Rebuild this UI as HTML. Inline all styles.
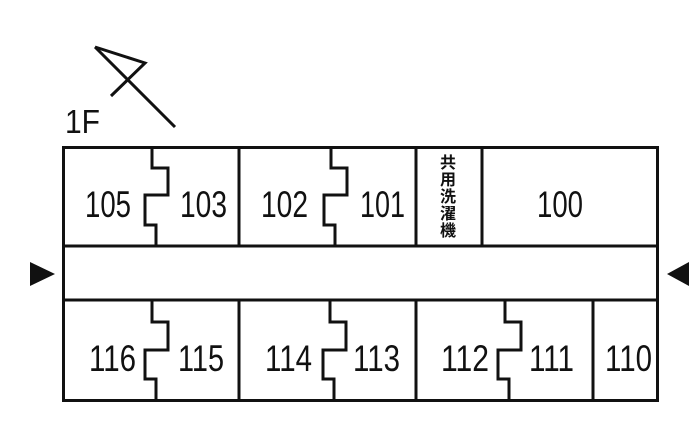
<!DOCTYPE html>
<html><head><meta charset="utf-8"><style>
html,body{margin:0;padding:0;background:#fff;}
svg{display:block;}
text{font-family:"Liberation Sans","Noto Sans CJK JP",sans-serif;fill:#111;}
</style></head><body>
<svg width="700" height="446" viewBox="0 0 700 446" xmlns="http://www.w3.org/2000/svg">
<g fill="none" stroke="#111" stroke-width="3" stroke-linejoin="miter">
<polyline points="95,47 175,127"/>
<polyline points="95,47 145,63 111,96"/>
<rect x="63.5" y="147.5" width="594" height="253"/>
<line x1="63" y1="246" x2="658" y2="246"/>
<line x1="63" y1="300" x2="658" y2="300"/>
<line x1="239" y1="147" x2="239" y2="246"/>
<line x1="416" y1="147" x2="416" y2="246"/>
<line x1="482" y1="147" x2="482" y2="246"/>
<line x1="239" y1="300" x2="239" y2="400"/>
<line x1="416" y1="300" x2="416" y2="400"/>
<line x1="593" y1="300" x2="593" y2="400"/>
<polyline points="152,147 152,168 168,168 168,195 145,195 145,225 156,225 156,246"/>
<polyline points="331,147 331,168 347,168 347,195 324,195 324,225 335,225 335,246"/>
<polyline points="152,300 152,322 168,322 168,350 145,350 145,379 156,379 156,400"/>
<polyline points="330,300 330,322 346,322 346,350 323,350 323,379 334,379 334,400"/>
<polyline points="505,300 505,322 521,322 521,350 498,350 498,379 509,379 509,400"/>
</g>
<polygon points="30,262 55,274 30,286" fill="#111"/>
<polygon points="689,262 667,274 689,286" fill="#111"/>
<text x="65" y="133" font-size="33" textLength="35" lengthAdjust="spacingAndGlyphs">1F</text>
<g font-size="37">
<text x="85" y="217" textLength="46" lengthAdjust="spacingAndGlyphs">105</text>
<text x="180" y="217" textLength="47" lengthAdjust="spacingAndGlyphs">103</text>
<text x="261" y="217" textLength="47" lengthAdjust="spacingAndGlyphs">102</text>
<text x="360" y="217" textLength="45" lengthAdjust="spacingAndGlyphs">101</text>
<text x="537" y="217" textLength="46" lengthAdjust="spacingAndGlyphs">100</text>
<text x="89" y="371" textLength="47" lengthAdjust="spacingAndGlyphs">116</text>
<text x="178" y="371" textLength="46" lengthAdjust="spacingAndGlyphs">115</text>
<text x="265" y="371" textLength="47" lengthAdjust="spacingAndGlyphs">114</text>
<text x="353" y="371" textLength="47" lengthAdjust="spacingAndGlyphs">113</text>
<text x="441" y="371" textLength="48" lengthAdjust="spacingAndGlyphs">112</text>
<text x="529" y="371" textLength="45" lengthAdjust="spacingAndGlyphs">111</text>
<text x="605" y="371" textLength="47" lengthAdjust="spacingAndGlyphs">110</text>
</g>
<g font-size="16" font-weight="bold" text-anchor="middle">
<text x="448" y="168">共</text>
<text x="448" y="185">用</text>
<text x="448" y="202">洗</text>
<text x="448" y="219">濯</text>
<text x="448" y="236">機</text>
</g>
</svg>
</body></html>
